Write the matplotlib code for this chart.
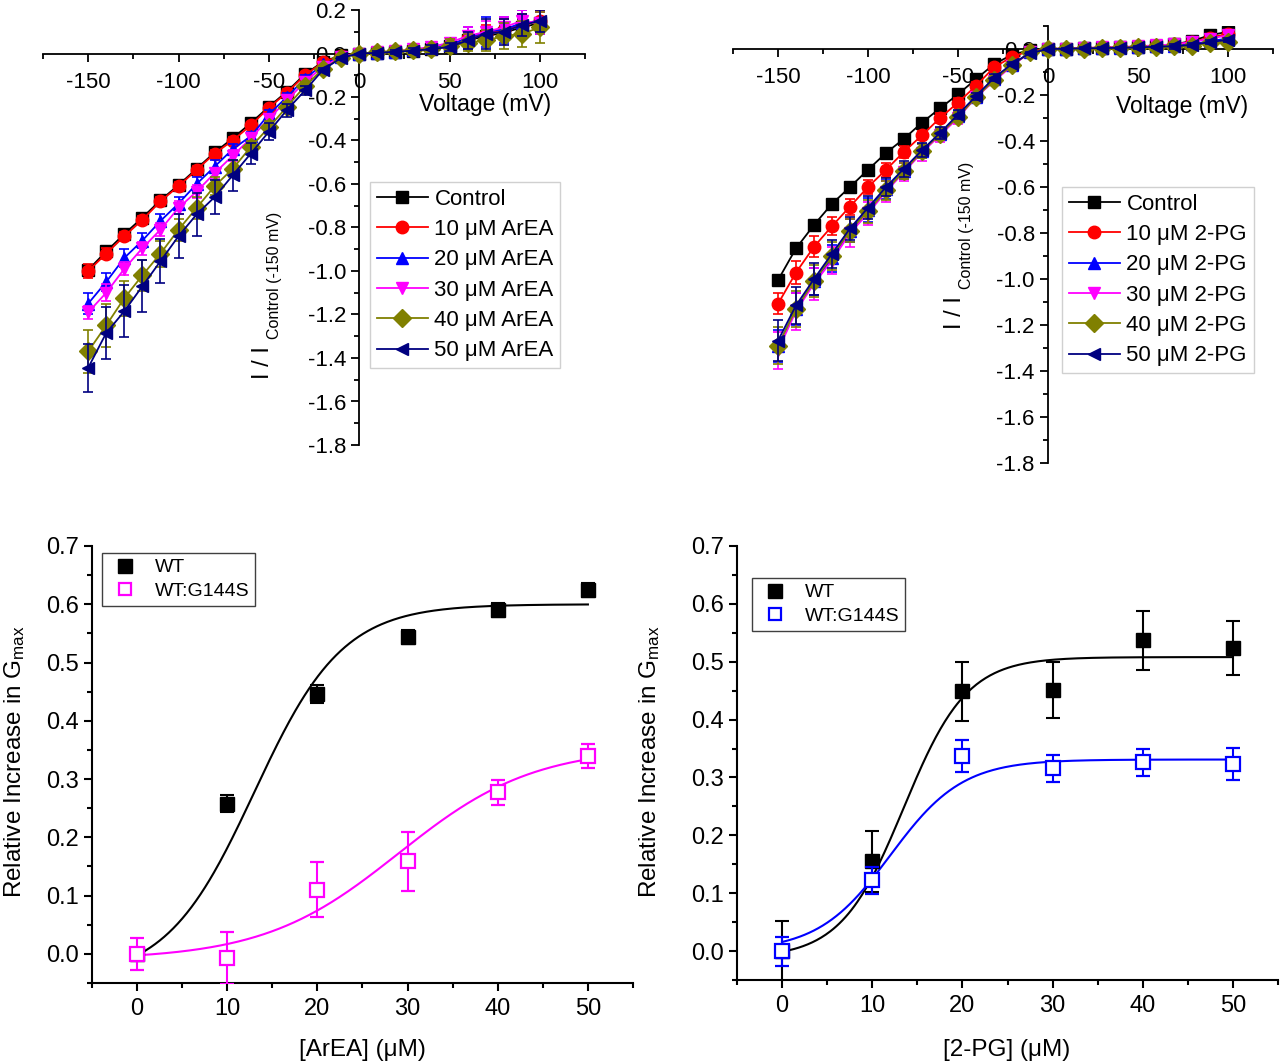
import numpy as np
import matplotlib
matplotlib.use("Agg")
import matplotlib.pyplot as plt
from matplotlib.ticker import MultipleLocator, FormatStrFormatter
from matplotlib.lines import Line2D

plt.rcParams['font.family'] = ['Liberation Sans', 'DejaVu Sans']
plt.rcParams['mathtext.fontset'] = 'custom'
plt.rcParams['mathtext.rm'] = 'Liberation Sans'
plt.rcParams['mathtext.it'] = 'Liberation Sans:italic'
plt.rcParams['axes.unicode_minus'] = False

# ---------------- data: I-V curves ----------------
voltage = list(range(-150, 101, 10))

series_labels_arEA = ["Control", "10 μM ArEA", "20 μM ArEA", "30 μM ArEA", "40 μM ArEA", "50 μM ArEA"]
series_labels_2pg = ["Control", "10 μM 2-PG", "20 μM 2-PG", "30 μM 2-PG", "40 μM 2-PG", "50 μM 2-PG"]

arEA_control = [-0.995, -0.91, -0.83, -0.755, -0.675, -0.605, -0.53, -0.455, -0.39, -0.32, -0.245, -0.175, -0.095, -0.038, -0.008, 0.0,
                0.003, 0.008, 0.013, 0.02, 0.035, 0.06, 0.08, 0.095, 0.12, 0.14]
arEA_10 = [-1.00, -0.92, -0.84, -0.765, -0.68, -0.61, -0.535, -0.46, -0.40, -0.33, -0.25, -0.18, -0.10, -0.04, -0.01, 0.0,
           0.004, 0.01, 0.015, 0.02, 0.04, 0.07, 0.09, 0.11, 0.13, 0.15]
arEA_20 = [-1.15, -1.05, -0.94, -0.86, -0.77, -0.69, -0.60, -0.52, -0.44, -0.38, -0.28, -0.20, -0.115, -0.05, -0.015, 0.0,
           0.003, 0.008, 0.015, 0.025, 0.04, 0.07, 0.10, 0.11, 0.14, 0.15]
arEA_30 = [-1.19, -1.10, -0.99, -0.895, -0.81, -0.71, -0.635, -0.55, -0.47, -0.39, -0.30, -0.215, -0.13, -0.06, -0.015, 0.0,
           0.005, 0.01, 0.02, 0.03, 0.05, 0.08, 0.10, 0.12, 0.15, 0.14]
arEA_40 = [-1.37, -1.25, -1.125, -1.02, -0.92, -0.81, -0.71, -0.61, -0.53, -0.43, -0.34, -0.245, -0.15, -0.07, -0.02, 0.0,
           0.005, 0.01, 0.015, 0.02, 0.035, 0.05, 0.06, 0.08, 0.09, 0.12]
arEA_50 = [-1.445, -1.285, -1.185, -1.07, -0.955, -0.84, -0.74, -0.66, -0.56, -0.46, -0.36, -0.26, -0.17, -0.075, -0.02, 0.0,
           0.003, 0.008, 0.013, 0.02, 0.03, 0.06, 0.09, 0.10, 0.13, 0.15]

arEA_control_err = [0.02, 0.02, 0.02, 0.02, 0.02, 0.02, 0.015, 0.015, 0.015, 0.015, 0.01, 0.01, 0.01, 0.005, 0.005, 0.0,
                    0.005, 0.01, 0.01, 0.01, 0.015, 0.02, 0.03, 0.03, 0.04, 0.05]
arEA_10_err = [0.03, 0.025, 0.02, 0.02, 0.02, 0.02, 0.02, 0.015, 0.015, 0.015, 0.015, 0.015, 0.01, 0.01, 0.005, 0.0,
               0.01, 0.01, 0.01, 0.015, 0.02, 0.03, 0.04, 0.05, 0.05, 0.05]
arEA_20_err = [0.05, 0.04, 0.04, 0.035, 0.03, 0.03, 0.03, 0.03, 0.025, 0.02, 0.02, 0.02, 0.015, 0.01, 0.005, 0.0,
               0.01, 0.01, 0.01, 0.02, 0.02, 0.05, 0.07, 0.06, 0.06, 0.06]
arEA_30_err = [0.03, 0.04, 0.03, 0.03, 0.03, 0.03, 0.03, 0.025, 0.025, 0.02, 0.02, 0.02, 0.015, 0.01, 0.005, 0.0,
               0.01, 0.01, 0.01, 0.02, 0.02, 0.04, 0.05, 0.05, 0.05, 0.05]
arEA_40_err = [0.10, 0.10, 0.08, 0.07, 0.06, 0.05, 0.05, 0.04, 0.04, 0.03, 0.03, 0.02, 0.02, 0.01, 0.005, 0.0,
               0.01, 0.01, 0.02, 0.02, 0.03, 0.04, 0.05, 0.06, 0.06, 0.07]
arEA_50_err = [0.11, 0.12, 0.12, 0.12, 0.10, 0.10, 0.10, 0.08, 0.07, 0.05, 0.04, 0.03, 0.02, 0.01, 0.005, 0.0,
               0.01, 0.01, 0.01, 0.02, 0.02, 0.04, 0.07, 0.06, 0.05, 0.05]

pg_control = [-1.005, -0.867, -0.765, -0.673, -0.60, -0.525, -0.452, -0.39, -0.32, -0.258, -0.197, -0.131, -0.066, -0.025, -0.005, 0.0,
              0.002, 0.004, 0.006, 0.008, 0.01, 0.015, 0.02, 0.035, 0.06, 0.075]
pg_10 = [-1.108, -0.972, -0.86, -0.77, -0.685, -0.60, -0.525, -0.447, -0.375, -0.30, -0.233, -0.16, -0.08, -0.034, -0.008, 0.0,
         0.002, 0.004, 0.006, 0.008, 0.01, 0.015, 0.02, 0.03, 0.05, 0.065]
pg_20 = [-1.29, -1.13, -1.01, -0.91, -0.79, -0.70, -0.61, -0.53, -0.445, -0.37, -0.29, -0.208, -0.13, -0.07, -0.015, 0.0,
         0.001, 0.003, 0.005, 0.006, 0.008, 0.012, 0.015, 0.02, 0.035, 0.045]
pg_30 = [-1.31, -1.14, -1.02, -0.92, -0.80, -0.715, -0.62, -0.535, -0.45, -0.375, -0.30, -0.21, -0.14, -0.073, -0.015, 0.0,
         0.002, 0.005, 0.007, 0.009, 0.012, 0.016, 0.02, 0.03, 0.045, 0.06]
pg_40 = [-1.29, -1.13, -1.01, -0.90, -0.79, -0.705, -0.615, -0.53, -0.445, -0.37, -0.295, -0.21, -0.135, -0.07, -0.015, 0.0,
         0.0, 0.002, 0.004, 0.005, 0.007, 0.01, 0.012, 0.015, 0.025, 0.03]
pg_50 = [-1.268, -1.115, -1.0, -0.89, -0.78, -0.69, -0.60, -0.52, -0.44, -0.365, -0.285, -0.205, -0.125, -0.065, -0.018, 0.0,
         0.001, 0.003, 0.004, 0.005, 0.007, 0.01, 0.012, 0.018, 0.03, 0.04]

pg_control_err = [0.01, 0.01, 0.01, 0.01, 0.01, 0.01, 0.01, 0.01, 0.01, 0.01, 0.01, 0.01, 0.005, 0.005, 0.005, 0.0,
                  0.005, 0.005, 0.005, 0.005, 0.005, 0.005, 0.01, 0.01, 0.01, 0.01]
pg_10_err = [0.045, 0.05, 0.045, 0.04, 0.035, 0.03, 0.03, 0.025, 0.02, 0.02, 0.02, 0.015, 0.015, 0.01, 0.005, 0.0,
             0.005, 0.005, 0.005, 0.005, 0.005, 0.005, 0.01, 0.01, 0.01, 0.01]
pg_20_err = [0.07, 0.07, 0.06, 0.06, 0.05, 0.05, 0.04, 0.035, 0.03, 0.025, 0.02, 0.015, 0.015, 0.01, 0.005, 0.0,
             0.005, 0.005, 0.005, 0.005, 0.005, 0.005, 0.01, 0.01, 0.01, 0.01]
pg_30_err = [0.08, 0.08, 0.07, 0.06, 0.06, 0.05, 0.045, 0.04, 0.035, 0.03, 0.025, 0.02, 0.015, 0.01, 0.005, 0.0,
             0.005, 0.005, 0.005, 0.005, 0.005, 0.005, 0.01, 0.01, 0.01, 0.01]
pg_40_err = [0.08, 0.08, 0.07, 0.06, 0.05, 0.05, 0.04, 0.035, 0.03, 0.025, 0.02, 0.015, 0.015, 0.01, 0.005, 0.0,
             0.005, 0.005, 0.005, 0.005, 0.005, 0.005, 0.01, 0.01, 0.01, 0.01]
pg_50_err = [0.09, 0.08, 0.07, 0.06, 0.05, 0.05, 0.04, 0.035, 0.03, 0.025, 0.02, 0.015, 0.015, 0.01, 0.005, 0.0,
             0.005, 0.005, 0.005, 0.005, 0.005, 0.005, 0.01, 0.01, 0.01, 0.01]

iv_colors = ["#000000", "#ff0000", "#0000ff", "#ff00ff", "#808000", "#000080"]
iv_markers = ["s", "o", "^", "v", "D", "<"]

# ---------------- data: dose response ----------------
conc = [0, 10, 20, 30, 40, 50]
arEA_wt = [0.0, 0.258, 0.446, 0.543, 0.590, 0.624]
arEA_wt_err = [0.004, 0.015, 0.015, 0.012, 0.012, 0.012]
arEA_mut = [0.0, -0.007, 0.110, 0.159, 0.277, 0.340]
arEA_mut_err = [0.027, 0.045, 0.047, 0.051, 0.022, 0.021]
pg_wt = [0.0, 0.155, 0.449, 0.451, 0.537, 0.524]
pg_wt_err = [0.052, 0.053, 0.051, 0.048, 0.051, 0.047]
pg_mut = [0.0, 0.122, 0.337, 0.316, 0.326, 0.323]
pg_mut_err = [0.025, 0.024, 0.028, 0.023, 0.024, 0.028]

# Boltzmann fit parameters (A1, A2, x0, dx)
fit_arEA_wt = (-0.045, 0.60, 13.0, 4.9)
fit_arEA_mut = (-0.01, 0.355, 29.0, 7.5)
fit_pg_wt = (-0.012, 0.508, 13.5, 3.5)
fit_pg_mut = (0.0, 0.331, 12.0, 4.0)


def boltzmann(x, p):
    a1, a2, x0, dx = p
    return a2 + (a1 - a2) / (1 + np.exp((x - x0) / dx))


fig = plt.figure(figsize=(12.8, 10.64), dpi=100)


def fx(px):
    return px / 1280


def fy(py):
    return 1 - py / 1064


def iv_panel(rect, ylim_top, series, errs, labels, xlabel_pos, main_pos, sub_pos, legend_xy):
    ax = fig.add_axes(rect)
    for i, (ys, es) in enumerate(zip(series, errs)):
        ax.errorbar(voltage, ys, yerr=es, fmt='none', ecolor=iv_colors[i], elinewidth=1.2,
                    capsize=3.5, capthick=1.2, zorder=2 + i)
        ax.plot(voltage, ys, color=iv_colors[i], lw=1.3, marker=iv_markers[i], ms=9,
                mfc=iv_colors[i], mec=iv_colors[i], zorder=2 + i, label=labels[i])
    ax.set_xlim(-175, 125)
    ax.set_ylim(-1.8, ylim_top)
    for s in ['top', 'right']:
        ax.spines[s].set_visible(False)
    ax.spines['left'].set_position(('data', 0))
    ax.spines['bottom'].set_position(('data', 0))
    for s in ['left', 'bottom']:
        ax.spines[s].set_linewidth(1.3)
        ax.spines[s].set_zorder(1)
    ax.xaxis.set_major_locator(MultipleLocator(50))
    ax.xaxis.set_minor_locator(MultipleLocator(25))
    ax.yaxis.set_major_locator(MultipleLocator(0.2))
    ax.yaxis.set_minor_locator(MultipleLocator(0.1))
    ax.yaxis.set_major_formatter(FormatStrFormatter('%.1f'))
    ax.tick_params(which='major', direction='out', length=6, width=1.3, labelsize=16)
    ax.tick_params(which='minor', direction='out', length=3.5, width=1.3)
    ax.tick_params(axis='x', which='major', pad=7)
    ax.patch.set_alpha(0)
    fig.text(fx(xlabel_pos[0]), fy(xlabel_pos[1]), "Voltage (mV)", fontsize=16.5,
             ha='center', va='center')
    fig.text(fx(main_pos[0]), fy(main_pos[1]), "I / I", fontsize=17, rotation=90,
             ha='center', va='center')
    fig.text(fx(sub_pos[0]), fy(sub_pos[1]), "Control (-150 mV)", fontsize=11.5, rotation=90,
             ha='center', va='center')
    handles, labs = ax.get_legend_handles_labels()
    leg = ax.legend(handles, labs, loc='upper left',
                    bbox_to_anchor=(fx(legend_xy[0]), fy(legend_xy[1])),
                    bbox_transform=fig.transFigure, fontsize=16, frameon=True, fancybox=False,
                    edgecolor='#d0d0d0', framealpha=1, handlelength=2.3, handletextpad=0.3,
                    labelspacing=0.42, borderpad=0.3, borderaxespad=0)
    leg.get_frame().set_linewidth(1.0)
    return ax


iv_panel([fx(43), fy(445), 542 / 1280, 435 / 1064], 0.2,
         [arEA_control, arEA_10, arEA_20, arEA_30, arEA_40, arEA_50],
         [arEA_control_err, arEA_10_err, arEA_20_err, arEA_30_err, arEA_40_err, arEA_50_err],
         series_labels_arEA, (485, 105), (263, 363), (275, 275), (370, 182))

iv_panel([fx(733), fy(463), 540 / 1280, 437 / 1064], 0.1,
         [pg_control, pg_10, pg_20, pg_30, pg_40, pg_50],
         [pg_control_err, pg_10_err, pg_20_err, pg_30_err, pg_40_err, pg_50_err],
         series_labels_2pg, (1182, 107), (955, 313), (967, 225), (1062, 187))


def dr_panel(rect, wt, wt_err, mut, mut_err, fit_wt, fit_mut, mut_color, xlabel, xlabel_pos,
             ylabel_pos, legend_xy):
    ax = fig.add_axes(rect)
    xs = np.linspace(0, 50, 300)
    ax.plot(xs, boltzmann(xs, fit_wt), color='black', lw=1.5, zorder=2)
    ax.plot(xs, boltzmann(xs, fit_mut), color=mut_color, lw=1.5, zorder=2)
    ax.errorbar(conc, wt, yerr=wt_err, fmt='s', color='black', ms=10, mfc='black', mec='black',
                elinewidth=1.5, capsize=5, capthick=1.5, zorder=3, label='WT')
    ax.errorbar(conc, mut, yerr=mut_err, fmt='s', color=mut_color, ms=10, mfc='white',
                mec=mut_color, mew=1.6, elinewidth=1.5, capsize=5, capthick=1.5, zorder=4,
                label='WT:G144S')
    ax.set_xlim(-5, 55)
    ax.set_ylim(-0.05, 0.7)
    for s in ['top', 'right']:
        ax.spines[s].set_visible(False)
    for s in ['left', 'bottom']:
        ax.spines[s].set_linewidth(1.5)
    ax.xaxis.set_major_locator(MultipleLocator(10))
    ax.xaxis.set_minor_locator(MultipleLocator(5))
    ax.yaxis.set_major_locator(MultipleLocator(0.1))
    ax.yaxis.set_minor_locator(MultipleLocator(0.05))
    ax.yaxis.set_major_formatter(FormatStrFormatter('%.1f'))
    ax.tick_params(which='major', direction='out', length=6, width=1.5, labelsize=17)
    ax.tick_params(which='minor', direction='out', length=3.5, width=1.5)
    ax.tick_params(axis='x', which='major', pad=5)
    fig.text(fx(xlabel_pos[0]), fy(xlabel_pos[1]), xlabel, fontsize=17.5,
             ha='center', va='center')
    fig.text(fx(ylabel_pos[0]), fy(ylabel_pos[1]),
             r"Relative Increase in G$_{\mathrm{max}}$", fontsize=17.5, rotation=90,
             ha='center', va='center')
    h = [Line2D([], [], ls='none', marker='s', ms=10, mfc='black', mec='black'),
         Line2D([], [], ls='none', marker='s', ms=9, mfc='white', mec=mut_color, mew=1.6)]
    leg = ax.legend(h, ['WT', 'WT:G144S'], loc='upper left',
                    bbox_to_anchor=(fx(legend_xy[0]), fy(legend_xy[1])),
                    bbox_transform=fig.transFigure, fontsize=14, frameon=True, fancybox=False,
                    edgecolor='#404040', framealpha=1, handlelength=1.8, handletextpad=0.6,
                    labelspacing=0.3, borderpad=0.3, borderaxespad=0)
    leg.get_frame().set_linewidth(1.0)
    return ax


dr_panel([fx(92), fy(983), 541 / 1280, 437 / 1064], arEA_wt, arEA_wt_err, arEA_mut,
         arEA_mut_err, fit_arEA_wt, fit_arEA_mut, '#ff00ff', "[ArEA] (μM)", (362, 1050),
         (15, 762), (102, 553))

dr_panel([fx(737), fy(980), 541 / 1280, 434 / 1064], pg_wt, pg_wt_err, pg_mut,
         pg_mut_err, fit_pg_wt, fit_pg_mut, '#0000ff', "[2-PG] (μM)", (1007, 1050),
         (650, 762), (752, 578))

fig.savefig("out.png", dpi=100)
